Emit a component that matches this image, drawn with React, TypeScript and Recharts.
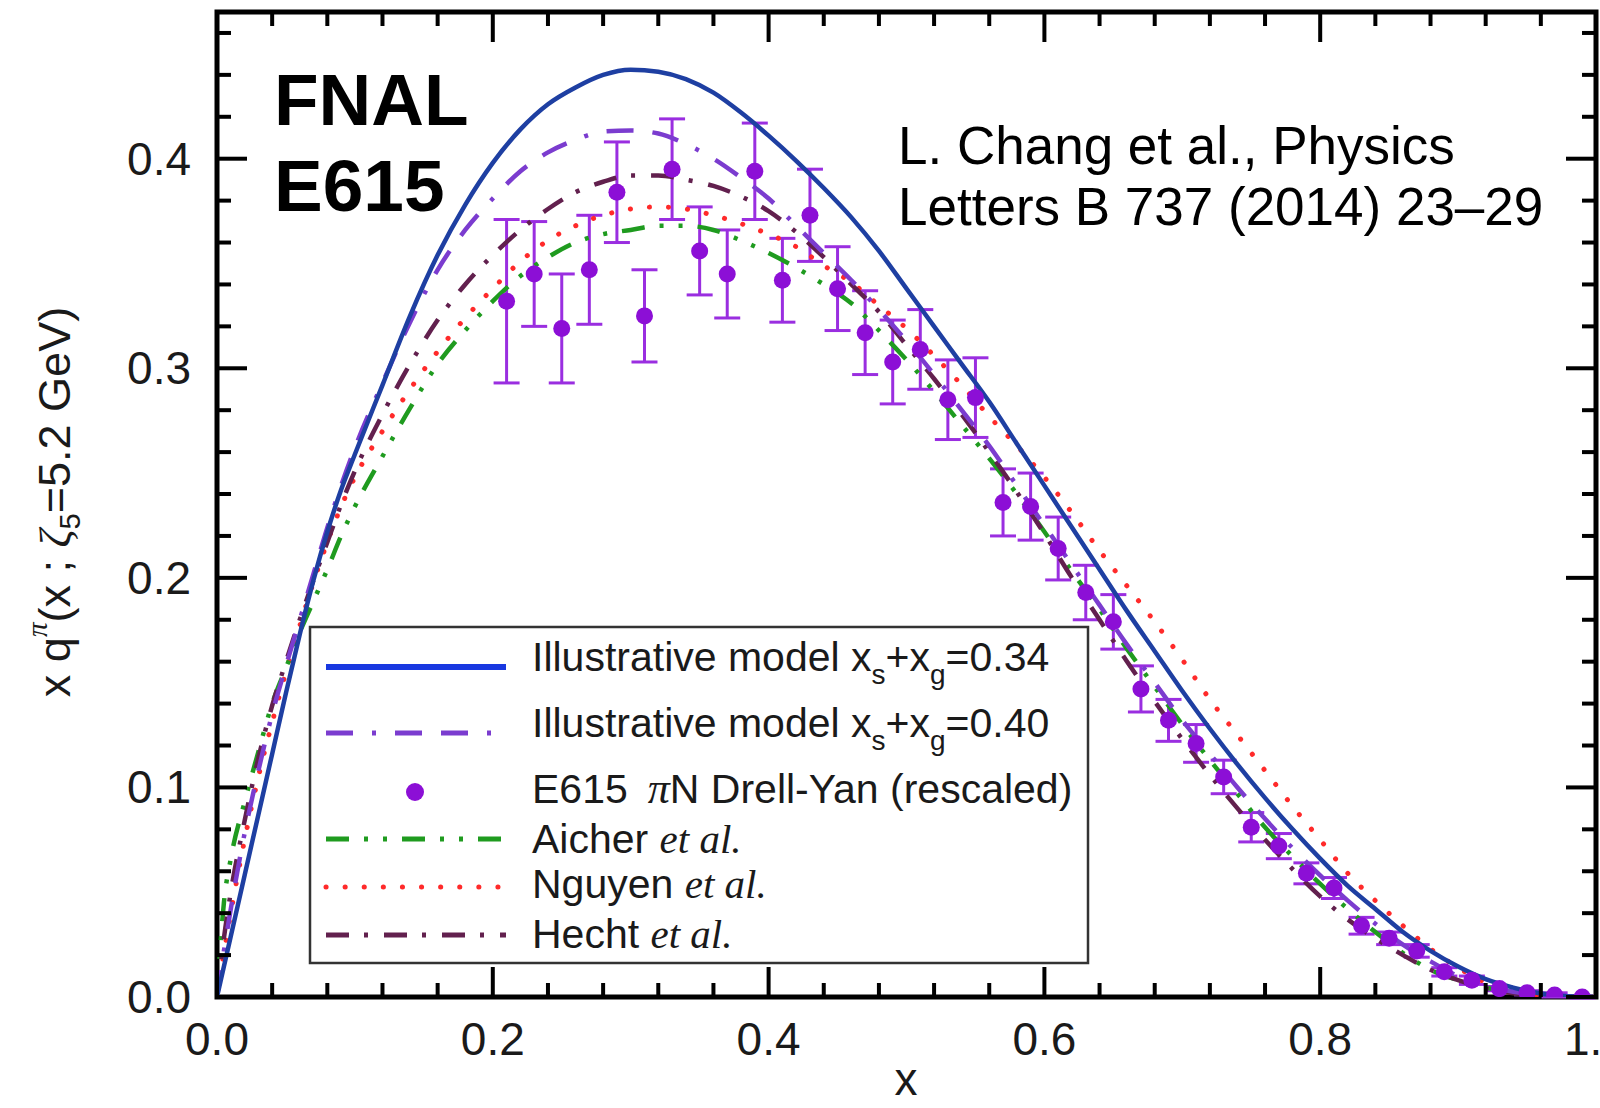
import React from 'react'
import { ComposedChart, Line, Scatter, ErrorBar, XAxis, YAxis, ReferenceArea } from 'recharts'

const SANS = '"Liberation Sans", Arial, Helvetica, sans-serif'
const SERIF = '"Liberation Serif", "Times New Roman", serif'

// x grid shared by all model curves
const xGrid = [
  0, 0.005, 0.01, 0.02, 0.03, 0.04, 0.05, 0.06, 0.07, 0.08, 0.09, 0.1,
  0.12, 0.14, 0.16, 0.18, 0.2, 0.22, 0.24, 0.26, 0.28, 0.3,
  0.32, 0.34, 0.36, 0.38, 0.4, 0.42, 0.44, 0.46, 0.48, 0.5,
  0.52, 0.54, 0.56, 0.58, 0.6, 0.62, 0.64, 0.66, 0.68, 0.7,
  0.72, 0.74, 0.76, 0.78, 0.8, 0.82, 0.84, 0.86, 0.88, 0.9,
  0.92, 0.94, 0.96, 0.98, 1.0,
]

// Illustrative model xs+xg=0.34 (solid blue)
const model034 = [
  0, 0.0145, 0.029, 0.058, 0.087, 0.116, 0.145, 0.173, 0.199, 0.222, 0.242, 0.259,
  0.292, 0.325, 0.354, 0.378, 0.398, 0.414, 0.426, 0.434, 0.44, 0.4425,
  0.4415, 0.438, 0.4315, 0.422, 0.411, 0.399, 0.386, 0.372, 0.356, 0.338,
  0.32, 0.302, 0.284, 0.264, 0.244, 0.224, 0.204, 0.184, 0.165, 0.146,
  0.128, 0.111, 0.095, 0.08, 0.066, 0.053, 0.042, 0.031, 0.022, 0.0145,
  0.0085, 0.0045, 0.0017, 0.0004, 0,
]

// Illustrative model xs+xg=0.40 (purple dash-dot)
const model040 = [
  0, 0.022, 0.042, 0.078, 0.108, 0.135, 0.158, 0.18, 0.202, 0.224, 0.244, 0.262,
  0.293, 0.322, 0.347, 0.366, 0.381, 0.394, 0.403, 0.409, 0.413, 0.4135,
  0.412, 0.407, 0.4, 0.391, 0.381, 0.368, 0.355, 0.342, 0.328, 0.313,
  0.297, 0.28, 0.263, 0.244, 0.225, 0.206, 0.187, 0.168, 0.15, 0.132,
  0.116, 0.1, 0.085, 0.071, 0.058, 0.046, 0.035, 0.025, 0.017, 0.01,
  0.0055, 0.0025, 0.0008, 0.0001, 0,
]

// Aicher et al. (green dash-dot-dot)
const aicher = [
  0, 0.045, 0.066, 0.093, 0.117, 0.14, 0.157, 0.174, 0.189, 0.204, 0.22, 0.234,
  0.258, 0.281, 0.302, 0.318, 0.332, 0.344, 0.353, 0.36, 0.364, 0.366,
  0.368, 0.368, 0.366, 0.361, 0.355, 0.348, 0.34, 0.331, 0.318, 0.304,
  0.289, 0.273, 0.257, 0.24, 0.222, 0.203, 0.185, 0.166, 0.148, 0.13,
  0.113, 0.097, 0.081, 0.067, 0.054, 0.042, 0.031, 0.021, 0.013, 0.008,
  0.0045, 0.002, 0.0007, 0.0001, 0,
]

// Nguyen et al. (red dotted)
const nguyen = [
  0, 0.021, 0.04, 0.075, 0.105, 0.131, 0.155, 0.177, 0.198, 0.217, 0.234, 0.248,
  0.27, 0.29, 0.308, 0.324, 0.338, 0.351, 0.361, 0.368, 0.373, 0.376,
  0.377, 0.376, 0.373, 0.369, 0.364, 0.358, 0.349, 0.341, 0.33, 0.319,
  0.306, 0.292, 0.277, 0.263, 0.248, 0.231, 0.213, 0.196, 0.179, 0.161,
  0.142, 0.125, 0.108, 0.091, 0.075, 0.059, 0.046, 0.034, 0.023, 0.014,
  0.007, 0.0028, 0.0008, 0.0001, 0,
]

// Hecht et al. (maroon dash-dot)
const hecht = [
  0, 0.028, 0.05, 0.084, 0.114, 0.139, 0.16, 0.18, 0.199, 0.217, 0.235, 0.251,
  0.278, 0.302, 0.323, 0.34, 0.354, 0.366, 0.376, 0.384, 0.389, 0.392,
  0.392, 0.39, 0.387, 0.382, 0.375, 0.365, 0.353, 0.34, 0.327, 0.311,
  0.295, 0.278, 0.26, 0.241, 0.221, 0.2, 0.18, 0.16, 0.141, 0.123,
  0.106, 0.09, 0.075, 0.061, 0.048, 0.037, 0.028, 0.02, 0.013, 0.008,
  0.004, 0.0018, 0.0005, 0.0001, 0,
]

// E615 piN Drell-Yan (rescaled)
const e615X = [
  0.21, 0.23, 0.25, 0.27, 0.29, 0.31, 0.33, 0.35, 0.37, 0.39,
  0.41, 0.43, 0.45, 0.47, 0.49, 0.51, 0.53, 0.55, 0.57, 0.59,
  0.61, 0.63, 0.65, 0.67, 0.69, 0.71, 0.73, 0.75, 0.77, 0.79,
  0.81, 0.83, 0.85, 0.87, 0.89, 0.91, 0.93, 0.95, 0.97, 0.99,
]
const e615Y = [
  0.332, 0.345, 0.319, 0.347, 0.384, 0.325, 0.395, 0.356, 0.345, 0.394,
  0.342, 0.373, 0.338, 0.317, 0.303, 0.309, 0.285, 0.286, 0.236, 0.234,
  0.214, 0.193, 0.179, 0.147, 0.132, 0.121, 0.105, 0.081, 0.072, 0.059,
  0.052, 0.034, 0.028, 0.022, 0.012, 0.008, 0.004, 0.002, 0.001, 0.0,
]
const e615Err = [
  0.039, 0.025, 0.026, 0.026, 0.024, 0.022, 0.024, 0.021, 0.021, 0.023,
  0.02, 0.022, 0.02, 0.02, 0.02, 0.019, 0.019, 0.019, 0.016, 0.016,
  0.015, 0.013, 0.013, 0.011, 0.01, 0.009, 0.008, 0.007, 0.006, 0.005,
  0.005, 0.004, 0.003, 0.003, 0.002, 0.002, 0.001, 0.001, 0.001, 0.0005,
]

const xTicks = [
  0, 0.04, 0.08, 0.12, 0.16, 0.2, 0.24, 0.28, 0.32, 0.36, 0.4, 0.44, 0.48,
  0.52, 0.56, 0.6, 0.64, 0.68, 0.72, 0.76, 0.8, 0.84, 0.88, 0.92, 0.96, 1.0,
]
const yTicks = [
  0, 0.02, 0.04, 0.06, 0.08, 0.1, 0.12, 0.14, 0.16, 0.18, 0.2, 0.22, 0.24,
  0.26, 0.28, 0.3, 0.32, 0.34, 0.36, 0.38, 0.4, 0.42, 0.44, 0.46,
]

const curveRows = xGrid.map((x, i) => ({
  x,
  m034: model034[i],
  m040: model040[i],
  aicher: aicher[i],
  nguyen: nguyen[i],
  hecht: hecht[i],
}))

const e615Rows = e615X.map((x, i) => ({ x, y: e615Y[i], err: e615Err[i] }))

const W = 1600
const H = 1108

const BLUE = '#1e3fa2'
const BLUE_KEY = '#1838e0'
const PURPLE = '#7b3ccf'
const GREEN = '#1f9b1f'
const RED = '#ff2a2a'
const MAROON = '#62204e'
const DOT = '#8c0fd6'
const BAR = '#9a2ee0'

const DASH_040 = '27 19 4 19 27 19'
const DASH_AICHER = '23 15 4 15 4 15'
const DASH_NGUYEN = '0.1 19'
const DASH_HECHT = '23 15 4 16'

const MAJOR = 30
const MINOR = 14

const isMajor = (v: number, step: number) => Math.abs(v / step - Math.round(v / step)) < 1e-6

// plot frame edges (px); axes are sized so their tick anchors land on these
const PLOT_LEFT = 217
const PLOT_TOP = 12
const PLOT_BOTTOM = 997
const PLOT_RIGHT = 1596

function BottomTick(props: any) {
  const { x, payload } = props
  const y = PLOT_BOTTOM
  const major = isMajor(payload.value, 0.2)
  return (
    <g>
      <line x1={x} y1={y} x2={x} y2={y - (major ? MAJOR : MINOR)} stroke="#000" strokeWidth={4} />
      {major && (
        <text x={x} y={y + 58} textAnchor="middle" fontSize={46} fontFamily={SANS} fill="#1a1a1a">
          {payload.value.toFixed(1)}
        </text>
      )}
    </g>
  )
}

function TopTick(props: any) {
  const { x, payload } = props
  const y = PLOT_TOP
  const major = isMajor(payload.value, 0.2)
  return <line x1={x} y1={y} x2={x} y2={y + (major ? MAJOR : MINOR)} stroke="#000" strokeWidth={4} />
}

function LeftTick(props: any) {
  const { y, payload } = props
  const x = PLOT_LEFT
  const major = isMajor(payload.value, 0.1)
  return (
    <g>
      <line x1={x} y1={y} x2={x + (major ? MAJOR : MINOR)} y2={y} stroke="#000" strokeWidth={4} />
      {major && (
        <text x={x - 26} y={y + 16} textAnchor="end" fontSize={46} fontFamily={SANS} fill="#1a1a1a">
          {payload.value.toFixed(1)}
        </text>
      )}
    </g>
  )
}

function RightTick(props: any) {
  const { y, payload } = props
  const x = PLOT_RIGHT
  const major = isMajor(payload.value, 0.1)
  return <line x1={x} y1={y} x2={x - (major ? MAJOR : MINOR)} y2={y} stroke="#000" strokeWidth={4} />
}

function KeyLine({ y, stroke, dash, width, cap }: { y: number; stroke: string; dash?: string; width: number; cap?: 'round' | 'butt' }) {
  return (
    <line x1={326} y1={y} x2={506} y2={y} stroke={stroke} strokeWidth={width} strokeDasharray={dash} strokeLinecap={cap || 'butt'} />
  )
}

function LegendBox() {
  const tx = 532
  const fs = 41
  return (
    <g fontFamily={SANS} fontSize={fs} fill="#1a1a1a" style={{ whiteSpace: 'pre' }}>
      <rect x={310} y={627} width={778} height={336} fill="#fff" stroke="#333" strokeWidth={2.5} />
      <KeyLine y={667} stroke={BLUE_KEY} width={6} />
      <text x={tx} y={671}>
        Illustrative model x<tspan fontSize={28} dy={13}>s</tspan>
        <tspan dy={-13}>+x</tspan>
        <tspan fontSize={28} dy={13}>g</tspan>
        <tspan dy={-13}>=0.34</tspan>
      </text>
      <KeyLine y={733} stroke={PURPLE} dash={DASH_040} width={5} />
      <text x={tx} y={737}>
        Illustrative model x<tspan fontSize={28} dy={13}>s</tspan>
        <tspan dy={-13}>+x</tspan>
        <tspan fontSize={28} dy={13}>g</tspan>
        <tspan dy={-13}>=0.40</tspan>
      </text>
      <circle cx={415} cy={792} r={9} fill={DOT} />
      <text x={tx} y={803}>
        E615
        <tspan dx={20} fontFamily={SERIF} fontStyle="italic" fontSize={44}>π</tspan>
        <tspan>N Drell-Yan (rescaled)</tspan>
      </text>
      <KeyLine y={839} stroke={GREEN} dash={DASH_AICHER} width={5} />
      <text x={tx} y={853}>
        Aicher <tspan fontFamily={SERIF} fontStyle="italic">et al.</tspan>
      </text>
      <KeyLine y={887} stroke={RED} dash={DASH_NGUYEN} width={5} cap="round" />
      <text x={tx} y={898}>
        Nguyen <tspan fontFamily={SERIF} fontStyle="italic">et al.</tspan>
      </text>
      <KeyLine y={935} stroke={MAROON} dash={DASH_HECHT} width={5} />
      <text x={tx} y={948}>
        Hecht <tspan fontFamily={SERIF} fontStyle="italic">et al.</tspan>
      </text>
    </g>
  )
}

export default function App() {
  return (
    <div style={{ position: 'absolute', left: 0, top: 0, width: W, height: H, background: '#fff' }}>
      <ComposedChart
        width={W}
        height={H}
        data={curveRows}
        margin={{ top: PLOT_TOP - 10, right: W - PLOT_RIGHT - 2, bottom: H - PLOT_BOTTOM - 100, left: PLOT_LEFT - 200 }}
      >
        <XAxis
          dataKey="x"
          type="number"
          domain={[0, 1]}
          ticks={xTicks}
          interval={0}
          allowDataOverflow
          height={100}
          axisLine={false}
          tickLine={false}
          tick={(p: any) => <BottomTick {...p} />}
        />
        <XAxis
          xAxisId="top"
          orientation="top"
          dataKey="x"
          type="number"
          domain={[0, 1]}
          ticks={xTicks}
          interval={0}
          allowDataOverflow
          height={10}
          axisLine={false}
          tickLine={false}
          tick={(p: any) => <TopTick {...p} />}
        />
        <YAxis
          type="number"
          domain={[0, 0.47]}
          ticks={yTicks}
          interval={0}
          allowDataOverflow
          width={200}
          axisLine={false}
          tickLine={false}
          tick={(p: any) => <LeftTick {...p} />}
        />
        <YAxis
          yAxisId="right"
          orientation="right"
          type="number"
          domain={[0, 0.47]}
          ticks={yTicks}
          interval={0}
          allowDataOverflow
          width={2}
          axisLine={false}
          tickLine={false}
          tick={(p: any) => <RightTick {...p} />}
        />
        <ReferenceArea x1={0} x2={1} y1={0} y2={0.47} fill="none" stroke="#000" strokeWidth={5} ifOverflow="visible" />
        <Scatter
          data={e615Rows}
          dataKey="y"
          fill={DOT}
          isAnimationActive={false}
          shape={(p: any) => <circle cx={p.cx} cy={p.cy} r={8.5} fill={DOT} />}
        >
          <ErrorBar dataKey="err" direction="y" width={13} stroke={BAR} strokeWidth={3} />
        </Scatter>
        <Line dataKey="nguyen" type="monotone" stroke={RED} strokeWidth={5} strokeDasharray={DASH_NGUYEN} strokeLinecap="round" dot={false} activeDot={false} isAnimationActive={false} />
        <Line dataKey="aicher" type="monotone" stroke={GREEN} strokeWidth={4.5} strokeDasharray={DASH_AICHER} dot={false} activeDot={false} isAnimationActive={false} />
        <Line dataKey="hecht" type="monotone" stroke={MAROON} strokeWidth={4.5} strokeDasharray={DASH_HECHT} dot={false} activeDot={false} isAnimationActive={false} />
        <Line dataKey="m040" type="monotone" stroke={PURPLE} strokeWidth={4.5} strokeDasharray={DASH_040} dot={false} activeDot={false} isAnimationActive={false} />
        <Line dataKey="m034" type="monotone" stroke={BLUE} strokeWidth={4.5} dot={false} activeDot={false} isAnimationActive={false} />
      </ComposedChart>

      <svg width={W} height={H} style={{ position: 'absolute', left: 0, top: 0, pointerEvents: 'none' }}>
        <g fontFamily={SANS} fontWeight="bold" fontSize={73} fill="#000">
          <text x={274} y={125}>FNAL</text>
          <text x={274} y={211}>E615</text>
        </g>
        <g fontFamily={SANS} fontSize={53} fill="#000">
          <text x={898} y={164}>L. Chang et al., Physics</text>
          <text x={898} y={225}>Letters B 737 (2014) 23–29</text>
        </g>
        <text
          x={70}
          y={502}
          transform="rotate(-90 70 502)"
          textAnchor="middle"
          fontFamily={SANS}
          fontSize={45}
          fill="#1a1a1a"
          style={{ whiteSpace: 'pre' }}
        >
          x q<tspan fontFamily={SERIF} fontStyle="italic" fontSize={29} dy={-23}>π</tspan>
          <tspan dy={23}>(x ; </tspan>
          <tspan fontFamily={SERIF} fontStyle="italic">ζ</tspan>
          <tspan fontSize={29} dy={10}>5</tspan>
          <tspan dy={-10}>=5.2 GeV)</tspan>
        </text>
        <text x={906} y={1095} textAnchor="middle" fontFamily={SANS} fontSize={46} fill="#1a1a1a">x</text>
        <LegendBox />
      </svg>
    </div>
  )
}
